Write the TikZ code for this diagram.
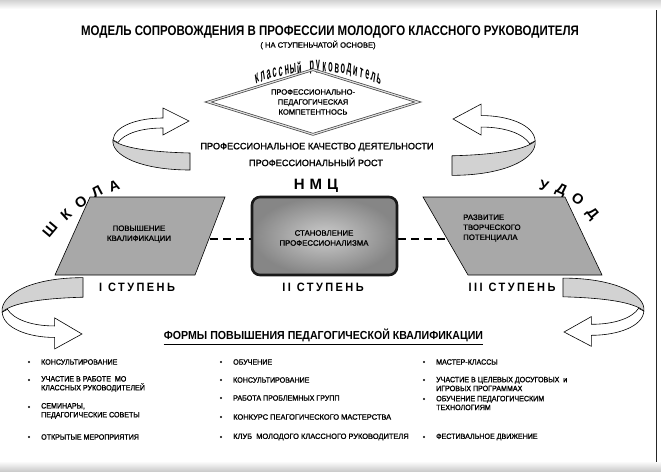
\documentclass[tikz,border=0pt]{standalone}
\usepackage{fontspec}
\setmainfont{Liberation Sans}
\newfontfamily\heavy[FakeBold=1.2]{Liberation Sans}
\newfontfamily\spacedfont[LetterSpace=22]{Liberation Sans}
\usetikzlibrary{shapes.geometric,calc}
\tikzset{
  every node/.style={inner sep=0pt},
  ttl/.style={font=\bfseries\fontsize{11.5}{13}\selectfont, yscale=1.2},
  sub/.style={font=\heavy\fontsize{7.6}{9}\selectfont},
  mid/.style={font=\heavy\fontsize{9.2}{10}\selectfont},
  boxtxt/.style={font=\heavy\fontsize{7.8}{10}\selectfont, align=center},
  stupen/.style={font=\spacedfont\bfseries\fontsize{11}{13}\selectfont, yscale=1.1},
  bigl/.style={font=\bfseries\fontsize{14.5}{17}\selectfont},
  arcl/.style={font=\bfseries\fontsize{10}{11}\selectfont, yscale=1.75, xscale=0.74},
  item/.style={anchor=west, align=left, font=\heavy\fontsize{7.1}{8.2}\selectfont, yscale=1.08},
  bul/.style={fill=black},
  edge/.style={draw=black, line width=0.6pt},
  dashcon/.style={draw=black, line width=2pt, dash pattern=on 8pt off 5pt},
  curl/.pic={
    \path[edge, fill=gray!35] (0,-8) .. controls (-40,-9) and (-68,-13) .. (-77,-21)
       .. controls (-79,-6) and (-50,9) .. (0,9) -- cycle;
    \path[edge, fill=white] (-77,-21) .. controls (-76,-35) and (-52,-43) .. (-27,-43)
       -- (-27,-53) -- (-1,-40) -- (-27,-26) -- (-27,-33)
       .. controls (-50,-33) and (-66,-27) .. (-72,-18.5) -- cycle;
  }
}
\begin{document}
\begin{tikzpicture}[x=1pt,y=-1pt]
\useasboundingbox (0,0) rectangle (661,471);
\fill[white] (0,0) rectangle (661,471);
\shade[top color=gray!35, bottom color=white] (0,0) rectangle (661,9);
\shade[top color=white, bottom color=gray!40] (0,461) rectangle (661,471);
\draw[gray!30!black, line width=0.8pt] (656,10) -- (656,462);

% titles
\node[ttl] (title) at (330,32) {МОДЕЛЬ СОПРОВОЖДЕНИЯ В ПРОФЕССИИ МОЛОДОГО КЛАССНОГО РУКОВОДИТЕЛЯ};
\node[sub] (subtitle) at (318,45) {( НА СТУПЕНЬЧАТОЙ ОСНОВЕ)};

% arched text
\foreach \ch [count=\i] in {к,л,а,с,с,н,ы,й,{},р,у,к,о,в,о,д,и,т,е,л,ь}{
  \pgfmathsetmacro\ang{112.3-(\i-1)*2.23}
  \node[arcl, rotate=\ang-90] (arc\i) at ({318+161*cos(\ang)},{228-161*sin(\ang)}) {\ch};
}

% diamond
\node[diamond, aspect=3.2, minimum width=210pt, minimum height=65pt,
      draw=gray!50!black, double=gray!25, double distance=1.2pt, line width=0.7pt,
      font=\heavy\fontsize{7.6}{10}\selectfont, align=center] (comp) at (313,102)
  {ПРОФЕССИОНАЛЬНО-\\ПЕДАГОГИЧЕСКАЯ\\КОМПЕТЕНТНОСЬ};

% curled arrows
\pic at (190,161) {curl};
\pic[xscale=-1.08, yscale=1.15] at (452,165) {curl};
\pic[xscale=1.05, yscale=-1.15] at (83,288) {curl};
\pic[xscale=-1.05, yscale=-1.1] at (563,288) {curl};

% middle texts
\node[mid] (quality) at (317,147) {ПРОФЕССИОНАЛЬНОЕ КАЧЕСТВО ДЕЯТЕЛЬНОСТИ};
\node[mid] (growth) at (316,162) {ПРОФЕССИОНАЛЬНЫЙ РОСТ};
\node[font=\bfseries\fontsize{15}{17}\selectfont] (nmc) at (316,186) {Н\,\,М\,\,Ц};

% ШКОЛА
\node[bigl, rotate=50] (sh1) at (50,230) {Ш};
\node[bigl, rotate=42] (sh2) at (66,215) {К};
\node[bigl, rotate=35] (sh3) at (81,202) {О};
\node[bigl, rotate=28] (sh4) at (97,192) {Л};
\node[bigl, rotate=20] (sh5) at (114,186) {А};
% УДОД
\node[bigl, rotate=-15] (ud1) at (544,186) {У};
\node[bigl, rotate=-25] (ud2) at (561,190) {Д};
\node[bigl, rotate=-38] (ud3) at (578,199) {О};
\node[bigl, rotate=-50] (ud4) at (592,214) {Д};

% boxes
\path[edge, fill=gray!68] (90,197) -- (225,197) -- (195,275) -- (55,275) -- cycle;
\coordinate (leftE) at (210,239);
\node[boxtxt] (b1) at (139,234) {ПОВЫШЕНИЕ\\КВАЛИФИКАЦИИ};

\node[rectangle, rounded corners=8pt, minimum width=145pt, minimum height=78pt,
      draw=gray!20!black, line width=2.6pt, inner color=gray!40, outer color=gray!95]
      (b2) at (324.5,236) {};
\node[boxtxt] (b2t) at (324,238) {СТАНОВЛЕНИЕ\\ПРОФЕССИОНАЛИЗМА};

\path[edge, fill=gray!68] (423,197) -- (565,197) -- (602,275) -- (468,275) -- cycle;
\coordinate (rightW) at (447,239);
\node[boxtxt, align=left, anchor=west] (b3) at (463,228) {РАЗВИТИЕ\\ТВОРЧЕСКОГО\\ПОТЕНЦИАЛА};

\draw[dashcon] (leftE) -- (b2.west |- leftE);
\draw[dashcon] (b2.east |- rightW) -- (rightW);

% stupen
\node[stupen] (s1) at (137,287) {I\hspace{6pt}СТУПЕНЬ};
\node[stupen] (s2) at (323,287) {II\hspace{6pt}СТУПЕНЬ};
\node[stupen] (s3) at (512,287) {III\hspace{6pt}СТУПЕНЬ};

% forms header
\node[font=\bfseries\fontsize{10.6}{12}\selectfont, yscale=1.1] (forms) at (323.5,335) {ФОРМЫ ПОВЫШЕНИЯ ПЕДАГОГИЧЕСКОЙ КВАЛИФИКАЦИИ};
\draw[line width=0.8pt] (forms.south west) ++(0,2.5) -- ($(forms.south east)+(0,2.5)$);

% column 1
\foreach \y in {362,380,407,437} \fill[bul] (29,\y) circle (1.1pt);
\node[item] (c11) at (41,362) {КОНСУЛЬТИРОВАНИЕ};
\node[item] (c12) at (41,384) {УЧАСТИЕ В РАБОТЕ \ МО\\КЛАССНЫХ РУКОВОДИТЕЛЕЙ};
\node[item] (c13) at (41,411) {СЕМИНАРЫ,\\ПЕДАГОГИЧЕСКИЕ СОВЕТЫ};
\node[item] (c14) at (41,437) {ОТКРЫТЫЕ МЕРОПРИЯТИЯ};
% column 2
\foreach \y in {362,380,398,417,437} \fill[bul] (221,\y) circle (1.1pt);
\node[item] (c21) at (233,362) {ОБУЧЕНИЕ};
\node[item] (c22) at (233,380) {КОНСУЛЬТИРОВАНИЕ};
\node[item] (c23) at (233,398) {РАБОТА ПРОБЛЕМНЫХ ГРУПП};
\node[item, xscale=1.05] (c24) at (233,417) {КОНКУРС ПЕАГОГИЧЕСКОГО МАСТЕРСТВА};
\node[item, xscale=1.05] (c25) at (233,437) {КЛУБ \ МОЛОДОГО КЛАССНОГО РУКОВОДИТЕЛЯ};
% column 3
\foreach \y in {362,380,399,437} \fill[bul] (424,\y) circle (1.1pt);
\node[item] (c31) at (436,362) {МАСТЕР-КЛАССЫ};
\node[item] (c32) at (436,384) {УЧАСТИЕ В ЦЕЛЕВЫХ ДОСУГОВЫХ \ и\\ИГРОВЫХ ПРОГРАММАХ};
\node[item] (c33) at (436,403) {ОБУЧЕНИЕ ПЕДАГОГИЧЕСКИМ\\ТЕХНОЛОГИЯМ};
\node[item] (c34) at (436,437) {ФЕСТИВАЛЬНОЕ ДВИЖЕНИЕ};
\end{tikzpicture}
\end{document}
